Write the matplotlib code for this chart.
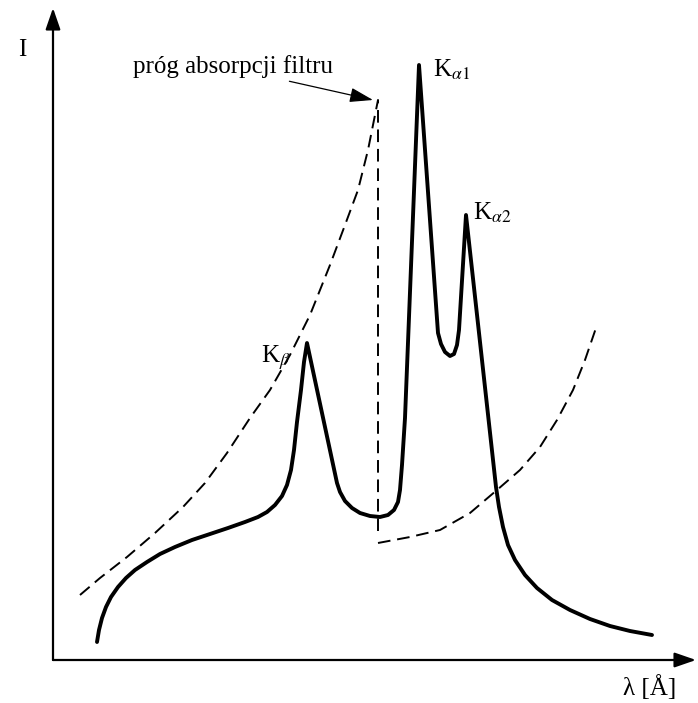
import matplotlib.pyplot as plt

plt.rcParams['mathtext.fontset'] = 'stix'
plt.rcParams['font.family'] = ['Liberation Serif', 'DejaVu Serif']

# widmo (linia ciągła): lambda, I
spec_x = [44, 46, 49, 53, 58, 65, 73, 82, 94, 107, 122, 139, 157, 175, 192,
          205, 214, 222, 229, 234, 238, 241, 244, 248, 251, 254, 284, 287, 292,
          299, 307, 317, 327, 335, 341, 345, 347, 349, 352, 366, 385, 388, 392,
          397, 401, 404, 406, 413, 443, 446, 450, 455, 462, 472, 484, 499, 517,
          537, 557, 577, 599]
spec_y = [18, 30, 42, 53, 63, 73, 82, 90, 98, 106, 113, 120, 126, 132, 138,
          143, 148, 155, 164, 175, 190, 210, 238, 270, 298, 317, 177, 168, 159,
          152, 147, 144, 143, 145, 150, 158, 170, 195, 242, 595, 327, 316, 308,
          304, 306, 315, 330, 445, 173, 153, 133, 115, 100, 85, 72, 60, 50,
          41, 34, 29, 25]

# krzywa absorpcji filtru (przerywana), przed i za progiem
abs1_x = [27, 47, 74, 102, 130, 152, 174, 197, 217, 237, 257, 277, 292, 305,
          315, 325, 325]
abs1_y = [65, 82, 103, 127, 153, 177, 207, 242, 270, 305, 345, 395, 435, 470,
          510, 560, 128]
abs2_x = [325, 357, 387, 417, 444, 467, 487, 504, 520, 532, 544]
abs2_y = [117, 123, 130, 147, 170, 190, 213, 240, 270, 300, 335]

fig = plt.figure(figsize=(6.98, 7.03), dpi=100)
ax = fig.add_axes([0, 0, 1, 1])
ax.set_xlim(-53, 645)
ax.set_ylim(-43, 660)
ax.axis('off')

# osie ze strzałkami
arrow = dict(arrowstyle='-|>,head_length=1.3,head_width=0.45', color='black',
             lw=1.6, shrinkA=0, shrinkB=0)
ax.annotate('', xy=(643, 0), xytext=(0, 0), arrowprops=arrow)
ax.annotate('', xy=(0, 652), xytext=(0, 0), arrowprops=arrow)

ax.plot(spec_x, spec_y, color='black', lw=2.8, solid_joinstyle='round',
        solid_capstyle='round')
ax.plot(abs1_x, abs1_y, color='black', lw=1.4, dashes=(6.5, 3.5))
ax.plot(abs2_x, abs2_y, color='black', lw=1.4, dashes=(6.5, 3.5))

ax.text(-31, 610, 'I', fontsize=18, ha='center', va='center')
ax.text(597, -28, 'λ [Å]', fontsize=18, ha='center', va='center')
ax.text(380, 590, r'K$_{\alpha1}$', fontsize=18, ha='left', va='center')
ax.text(420, 447, r'K$_{\alpha2}$', fontsize=18, ha='left', va='center')
ax.text(237, 302, r'K$_{\beta}$', fontsize=18, ha='right', va='center')

ax.annotate('próg absorpcji filtru', xy=(320, 560), xytext=(80, 593),
            fontsize=18, va='center', ha='left',
            arrowprops=dict(arrowstyle='-|>,head_length=0.8,head_width=0.25',
                            color='black', lw=0.9, shrinkA=0, shrinkB=0,
                            relpos=(0.72, 0)))

fig.savefig('out.png', dpi=100)
